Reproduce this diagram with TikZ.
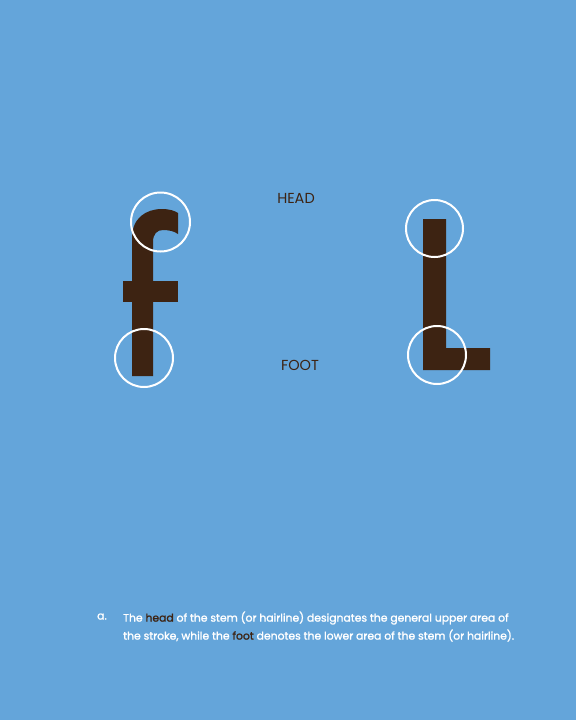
\documentclass[tikz,border=0pt]{standalone}
\usepackage{fontspec}
\setmainfont{Poppins}
\newfontfamily\capfont{Poppins}[FakeBold=1.6]
\definecolor{sky}{RGB}{100,165,218}
\definecolor{ink}{RGB}{61,35,18}

\begin{document}
\begin{tikzpicture}[x=1pt, y=-1pt, glyph/.style = {fill=ink}, ring/.style = {draw=white, line width=2pt}, lbl/.style = {text=ink, font=\fontsize{14.5}{16}\selectfont}, caption/.style = {text=white, font=\capfont\fontsize{10.8}{18}\selectfont, anchor=north west, inner xsep=0pt}]
            \fill[sky] (0,0) rectangle (576,720);
            \useasboundingbox (0,0) rectangle (576,720);
            % letter f
            \fill[glyph] (132,376) -- (132,238) .. controls (132,218) and (146,209) .. (162,209) .. controls (170,209) and (175,211) .. (178,213) -- (178,234) .. controls (174,231) and (168,230) .. (163,230) .. controls (157,230) and (153,234) .. (153,242) -- (153,376) -- cycle;
            \fill[glyph] (123,281) rectangle (178,302);
            % letter L
            \fill[glyph] (423,219) -- (446,219) -- (446,348) -- (490,348) -- (490,370) -- (423,370) -- cycle;
            % circles
            \draw[ring] (160.5,222) circle (29.5);
            \draw[ring] (144,358) circle (29);
            \draw[ring] (434.5,228.5) circle (28.5);
            \draw[ring] (437,355) circle (29);
            % labels
            \node[lbl] (head) at (296,198) {HEAD};
            \node[lbl] (foot) at (300,365) {FOOT};
            \node[caption] (a) at (97,608) {\vphantom{Th}a.};
            \node[caption, align=left] (cap) at (123,608) {The \textcolor{ink}{head} of the stem (or hairline) designates the general upper area of\\the stroke, while the \textcolor{ink}{foot} denotes the lower area of the stem (or hairline).};
        \end{tikzpicture}
\end{document}
